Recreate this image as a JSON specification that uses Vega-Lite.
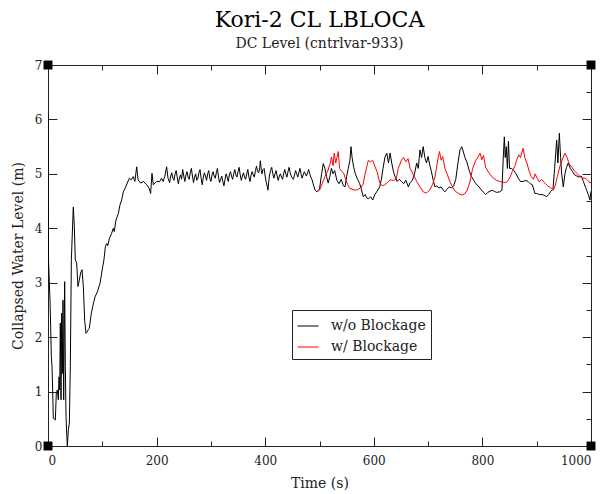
{
  "$schema": "https://vega.github.io/schema/vega-lite/v6.json",
  "width": 543,
  "height": 381,
  "autosize": {"type": "none"},
  "padding": {"left": 48, "top": 65, "right": 15, "bottom": 48},
  "title": {
    "text": "Kori-2 CL LBLOCA",
    "subtitle": "DC Level (cntrlvar-933)",
    "font": "DejaVu Serif",
    "fontSize": 22,
    "fontWeight": "normal",
    "color": "black",
    "subtitleFont": "DejaVu Serif",
    "subtitleFontSize": 14,
    "subtitleColor": "#222",
    "subtitlePadding": 5,
    "offset": 7,
    "anchor": "middle"
  },
  "config": {
    "view": {"stroke": null},
    "axis": {
      "domainColor": "#222",
      "domainWidth": 1,
      "tickColor": "#222",
      "tickWidth": 1,
      "grid": false,
      "labelFont": "DejaVu Serif",
      "labelFontSize": 12,
      "labelColor": "#222",
      "titleFont": "DejaVu Serif",
      "titleFontSize": 14,
      "titleFontWeight": "normal",
      "titleColor": "#222"
    },
    "legend": {
      "orient": "none",
      "legendX": 244,
      "legendY": 245,
      "strokeColor": "#222",
      "fillColor": "white",
      "padding": 5,
      "labelFont": "DejaVu Serif",
      "labelFontSize": 14,
      "labelColor": "#222",
      "labelOffset": 12,
      "symbolType": "stroke",
      "symbolSize": 441,
      "symbolStrokeWidth": 1,
      "rowPadding": 3
    }
  },
  "datasets": {
    "corners": [
      {"t": 0, "v": 0}, {"t": 0, "v": 7}, {"t": 1000, "v": 0}, {"t": 1000, "v": 7}
    ]
  },
  "layer": [
    {
      "data": {"values": [
        {"t":0,"v":6.1},{"t":1,"v":3.4},{"t":3.7,"v":2.68},{"t":4.9,"v":2.19},{"t":6.1,"v":1.64},{"t":7.4,"v":1.46},{"t":8.6,"v":1.03},{"t":9.8,"v":0.51},{"t":13.5,"v":0.48},{"t":15.3,"v":0.97},{"t":17.2,"v":1.03},{"t":19,"v":0.85},{"t":20.3,"v":1.27},{"t":21.5,"v":1.03},{"t":22.7,"v":2.26},{"t":24,"v":0.85},{"t":25.2,"v":2.44},{"t":26.4,"v":1.33},{"t":27.6,"v":2.68},{"t":28.9,"v":0.85},{"t":30.7,"v":3.02},{"t":31.9,"v":1.46},{"t":33.2,"v":0.54},{"t":34.4,"v":0.24},{"t":35.6,"v":0.0},{"t":37.5,"v":0.3},{"t":39.3,"v":0.42},{"t":41.1,"v":1.46},{"t":43,"v":3.42},{"t":44.8,"v":3.91},{"t":46.6,"v":4.39},{"t":48.5,"v":4.03},{"t":50.3,"v":3.42},{"t":52.8,"v":3.36},{"t":55.2,"v":2.93},{"t":57.7,"v":3.05},{"t":60.1,"v":3.18},{"t":62.6,"v":3.24},{"t":65.1,"v":2.93},{"t":67.5,"v":2.31},{"t":70,"v":2.07},{"t":72.4,"v":2.1},{"t":74,"v":2.14},{"t":76.1,"v":2.16},{"t":79.8,"v":2.44},{"t":82.3,"v":2.56},{"t":86.6,"v":2.74},{"t":90.8,"v":2.83},{"t":95.8,"v":2.99},{"t":100.7,"v":3.29},{"t":103,"v":3.42},{"t":105.6,"v":3.66},{"t":108,"v":3.72},{"t":110,"v":3.68},{"t":113,"v":3.81},{"t":117.3,"v":3.91},{"t":120.3,"v":4.0},{"t":122,"v":3.94},{"t":125.2,"v":4.15},{"t":129.5,"v":4.27},{"t":132.6,"v":4.43},{"t":135.7,"v":4.52},{"t":138.7,"v":4.67},{"t":141.8,"v":4.73},{"t":146,"v":4.83},{"t":149.8,"v":4.92},{"t":153.5,"v":4.89},{"t":157,"v":4.95},{"t":160,"v":4.86},{"t":163.3,"v":5.13},{"t":166,"v":4.89},{"t":170.7,"v":4.83},{"t":175.6,"v":4.86},{"t":181.7,"v":4.8},{"t":186.6,"v":4.73},{"t":189,"v":4.64},{"t":191.5,"v":5.01},{"t":194,"v":4.8},{"t":200,"v":4.86},{"t":206,"v":4.86},{"t":209,"v":4.92},{"t":212,"v":4.86},{"t":215,"v":4.95},{"t":218.5,"v":5.13},{"t":221,"v":4.92},
        {"t":224,"v":4.84},{"t":226,"v":4.96},{"t":228,"v":5.02},{"t":230,"v":4.92},{"t":232,"v":4.88},{"t":234,"v":5.0},{"t":236,"v":5.06},{"t":238,"v":4.94},{"t":240,"v":4.82},{"t":242,"v":4.92},{"t":244,"v":4.98},{"t":246,"v":4.9},{"t":248,"v":5.08},{"t":250,"v":4.96},{"t":252,"v":4.86},{"t":254,"v":4.98},{"t":256,"v":5.04},{"t":258,"v":4.94},{"t":260,"v":4.9},{"t":262,"v":5.02},{"t":264,"v":5.1},{"t":266,"v":4.96},{"t":268,"v":4.84},{"t":270,"v":4.94},{"t":272,"v":5.0},{"t":274,"v":4.88},{"t":276,"v":4.92},{"t":278,"v":5.02},{"t":280,"v":5.08},{"t":282,"v":4.92},{"t":284,"v":4.8},{"t":286,"v":4.94},{"t":288,"v":5.02},{"t":290,"v":4.96},{"t":292,"v":4.88},{"t":294,"v":5.0},{"t":296,"v":5.06},{"t":298,"v":4.92},{"t":300,"v":4.86},{"t":302,"v":4.98},{"t":304,"v":5.04},{"t":306,"v":4.96},{"t":308,"v":4.92},{"t":310,"v":5.02},{"t":312,"v":5.1},{"t":314,"v":4.94},{"t":316,"v":4.84},{"t":318,"v":4.9},{"t":320,"v":4.96},{"t":322,"v":4.86},{"t":324,"v":4.78},{"t":326,"v":4.9},{"t":328,"v":5.0},{"t":330,"v":4.94},{"t":332,"v":4.86},{"t":334,"v":4.98},{"t":336,"v":5.04},{"t":338,"v":4.96},{"t":340,"v":4.9},{"t":342,"v":5.0},{"t":344,"v":5.08},{"t":346,"v":4.98},{"t":348,"v":4.94},{"t":350,"v":5.04},{"t":352,"v":5.12},{"t":354,"v":4.98},{"t":356,"v":4.88},{"t":358,"v":4.96},{"t":360,"v":5.02},{"t":362,"v":4.94},{"t":364,"v":4.9},{"t":366,"v":5.0},{"t":368,"v":5.08},{"t":370,"v":4.94},{"t":372,"v":4.86},{"t":374,"v":4.98},{"t":376,"v":5.04},{"t":378,"v":4.98},{"t":380,"v":4.94},{"t":382,"v":5.06},{"t":384,"v":5.14},{"t":386,"v":5.04},{"t":388,"v":5.02},{"t":390,"v":5.12},{"t":391,"v":5.24},{"t":393,"v":5.06},{"t":394,"v":5.0},{"t":396,"v":5.08},{"t":398,"v":5.1},{"t":400,"v":4.96},{"t":402,"v":4.84},{"t":404,"v":4.76},{"t":405,"v":4.7},{"t":407,"v":4.9},{"t":408,"v":4.98},{"t":410,"v":5.06},{"t":412,"v":5.12},{"t":414,"v":5.0},{"t":416,"v":4.92},{"t":418,"v":5.0},{"t":420,"v":5.06},{"t":422,"v":4.96},{"t":424,"v":4.88},{"t":426,"v":4.96},{"t":428,"v":5.0},{"t":430,"v":4.94},{"t":432,"v":4.9},{"t":434,"v":5.0},{"t":436,"v":5.08},{"t":438,"v":5.0},{"t":440,"v":4.94},{"t":442,"v":5.04},{"t":444,"v":5.12},{"t":446,"v":5.02},{"t":448,"v":4.96},{"t":450,"v":4.92},{"t":452,"v":4.9},{"t":454,"v":4.98},{"t":456,"v":5.06},{"t":458,"v":5.0},{"t":460,"v":4.94},{"t":462,"v":5.02},{"t":464,"v":5.1},{"t":466,"v":5.0},{"t":468,"v":4.92},{"t":470,"v":4.98},{"t":472,"v":5.04},{"t":474,"v":5.0},{"t":476,"v":4.96},{"t":478,"v":5.02},{"t":480,"v":5.08},{"t":482,"v":5.0},{"t":484,"v":4.94},{"t":486,"v":4.9},{"t":488,"v":4.83},{"t":490,"v":4.76},{"t":492,"v":4.7},{"t":495,"v":4.67},
        {"t":500,"v":4.72},{"t":504,"v":5.01},{"t":507,"v":5.19},{"t":510,"v":5.1},{"t":513,"v":4.95},{"t":516,"v":4.83},{"t":519,"v":4.95},{"t":522,"v":5.1},{"t":525,"v":5.0},{"t":528,"v":5.06},{"t":532,"v":4.88},{"t":536,"v":4.82},{"t":540,"v":4.9},{"t":544,"v":4.78},{"t":547,"v":4.76},{"t":550,"v":4.95},{"t":553,"v":5.1},{"t":556,"v":5.25},{"t":558,"v":5.5},{"t":560,"v":5.3},{"t":563,"v":5.12},{"t":566,"v":5.0},{"t":570,"v":4.9},{"t":574,"v":4.82},{"t":577,"v":4.72},{"t":580.7,"v":4.58},{"t":584,"v":4.62},{"t":587,"v":4.56},{"t":590,"v":4.54},{"t":594,"v":4.58},{"t":598,"v":4.52},{"t":602,"v":4.62},{"t":606,"v":4.68},{"t":611,"v":4.76},{"t":614,"v":4.9},{"t":617,"v":5.1},{"t":620.6,"v":5.31},{"t":624,"v":5.38},{"t":627,"v":5.2},{"t":630,"v":5.38},{"t":633,"v":5.2},{"t":636,"v":5.05},{"t":639,"v":4.95},{"t":643,"v":4.86},{"t":647,"v":4.9},{"t":651,"v":4.86},{"t":655,"v":4.82},{"t":659,"v":4.88},{"t":663.6,"v":4.76},{"t":667,"v":4.84},{"t":671,"v":4.88},{"t":675,"v":5.0},{"t":679,"v":5.2},{"t":682,"v":5.1},{"t":685,"v":5.44},{"t":688,"v":5.3},{"t":691,"v":5.5},{"t":694,"v":5.3},{"t":697,"v":5.2},{"t":700,"v":5.32},{"t":703,"v":5.16},{"t":706,"v":5.05},{"t":709,"v":4.9},{"t":712.7,"v":4.76},{"t":716,"v":4.78},{"t":720,"v":4.74},{"t":724,"v":4.76},{"t":728,"v":4.7},{"t":731,"v":4.67},{"t":735,"v":4.72},{"t":739,"v":4.76},{"t":743,"v":4.74},{"t":747,"v":4.78},{"t":751,"v":4.9},{"t":755,"v":5.2},{"t":758.7,"v":5.44},{"t":762,"v":5.5},{"t":765,"v":5.4},{"t":768,"v":5.3},{"t":772,"v":5.2},{"t":776,"v":5.05},{"t":780,"v":4.95},{"t":784,"v":4.88},{"t":788,"v":4.82},{"t":792,"v":4.78},{"t":798.7,"v":4.7},{"t":802,"v":4.66},{"t":806,"v":4.62},{"t":810,"v":4.66},{"t":814,"v":4.68},{"t":818,"v":4.7},{"t":822,"v":4.68},{"t":826,"v":4.66},{"t":832,"v":4.67},{"t":836,"v":4.7},{"t":838.5,"v":5.31},{"t":840.4,"v":5.68},{"t":842,"v":5.3},{"t":844,"v":5.5},{"t":846,"v":5.1},{"t":848,"v":5.6},{"t":850,"v":5.1},{"t":854,"v":5.1},{"t":858,"v":5.06},{"t":862,"v":5.0},{"t":866,"v":4.92},{"t":870,"v":4.86},{"t":875,"v":4.86},{"t":880,"v":4.88},{"t":884,"v":4.86},{"t":888,"v":4.82},{"t":892,"v":4.8},{"t":896.8,"v":4.64},{"t":900,"v":4.64},{"t":905,"v":4.62},{"t":910,"v":4.62},{"t":915,"v":4.6},{"t":918.4,"v":4.58},{"t":922,"v":4.62},{"t":926,"v":4.68},{"t":930,"v":4.72},{"t":933,"v":5.1},{"t":936.8,"v":5.62},{"t":939,"v":5.2},{"t":941.7,"v":5.75},{"t":944,"v":5.3},{"t":946,"v":5.0},{"t":949,"v":4.76},{"t":952,"v":5.0},{"t":955,"v":5.12},{"t":958,"v":5.2},{"t":962,"v":5.1},{"t":966,"v":5.04},{"t":970,"v":4.98},{"t":974,"v":4.96},{"t":978,"v":4.94},{"t":982,"v":4.96},{"t":986,"v":4.86},{"t":990,"v":4.75},{"t":992,"v":4.7},{"t":995,"v":4.62},{"t":998,"v":4.52},{"t":1000,"v":4.68}
      ]},
      "mark": {"type": "line", "strokeWidth": 1, "clip": true},
      "encoding": {
        "x": {
          "field": "t", "type": "quantitative",
          "scale": {"domain": [0, 1000], "nice": false, "zero": false},
          "axis": {
            "orient": "bottom",
            "title": "Time (s)",
            "format": "d",
            "values": [0,100,200,300,400,500,600,700,800,900,1000],
            "labelExpr": "datum.value % 200 === 0 ? datum.label : ''",
            "tickSize": {"condition": {"test": "datum.value % 200 === 0", "value": -9}, "value": -5},
            "labelPadding": 18,
            "titlePadding": 10
          }
        },
        "y": {
          "field": "v", "type": "quantitative",
          "scale": {"domain": [0, 7], "nice": false},
          "axis": {
            "orient": "left",
            "title": "Collapsed Water Level (m)",
            "format": "d",
            "values": [0,0.5,1,1.5,2,2.5,3,3.5,4,4.5,5,5.5,6,6.5,7],
            "labelExpr": "datum.value % 1 === 0 ? datum.label : ''",
            "tickSize": {"condition": {"test": "datum.value % 1 === 0", "value": -9}, "value": -5},
            "labelPadding": 15,
            "titlePadding": 9
          }
        },
        "color": {
          "datum": "w/o Blockage",
          "scale": {"domain": ["w/o Blockage", "w/ Blockage"], "range": ["#000000", "#ff0000"]},
          "legend": {"title": null}
        }
      }
    },
    {
      "data": {"values": [
        {"t":495,"v":4.67},{"t":500,"v":4.7},{"t":505,"v":4.82},{"t":510,"v":4.95},{"t":515,"v":5.05},{"t":520,"v":5.2},{"t":522,"v":5.31},{"t":525,"v":5.15},{"t":527,"v":5.38},{"t":530,"v":5.2},{"t":534.6,"v":5.41},{"t":537,"v":5.1},{"t":541,"v":5.05},{"t":545,"v":5.0},{"t":548,"v":4.9},{"t":552,"v":4.8},{"t":556,"v":4.73},{"t":560,"v":4.72},{"t":565,"v":4.7},{"t":570,"v":4.71},{"t":575,"v":4.74},{"t":580,"v":4.8},{"t":584,"v":5.0},{"t":587,"v":5.13},{"t":590,"v":5.25},{"t":594,"v":5.22},{"t":598,"v":5.25},{"t":602,"v":5.14},{"t":606,"v":5.04},{"t":611,"v":4.83},{"t":616,"v":4.78},{"t":620,"v":4.8},{"t":625,"v":4.84},{"t":630,"v":4.89},{"t":636,"v":4.88},{"t":641,"v":4.9},{"t":645,"v":5.1},{"t":651,"v":5.25},{"t":655,"v":5.3},{"t":659,"v":5.22},{"t":663,"v":5.28},{"t":667,"v":5.1},{"t":672,"v":5.0},{"t":679,"v":4.86},{"t":685,"v":4.76},{"t":691,"v":4.67},{"t":697,"v":4.65},{"t":703,"v":4.7},{"t":708,"v":4.8},{"t":713,"v":4.95},{"t":716,"v":5.15},{"t":718.8,"v":5.31},{"t":721,"v":5.41},{"t":724,"v":5.25},{"t":727,"v":5.32},{"t":731,"v":5.1},{"t":735,"v":5.0},{"t":740,"v":4.86},{"t":745,"v":4.76},{"t":750,"v":4.68},{"t":756,"v":4.64},{"t":761.9,"v":4.61},{"t":767,"v":4.63},{"t":772,"v":4.7},{"t":777,"v":4.85},{"t":782,"v":5.1},{"t":788,"v":5.25},{"t":792,"v":5.31},{"t":795.6,"v":5.38},{"t":799,"v":5.26},{"t":802,"v":5.34},{"t":806,"v":5.12},{"t":810,"v":5.05},{"t":815,"v":4.98},{"t":820,"v":4.92},{"t":826,"v":4.88},{"t":832,"v":4.86},{"t":837,"v":4.85},{"t":841,"v":4.84},{"t":845,"v":4.85},{"t":850,"v":4.92},{"t":855,"v":5.04},{"t":860,"v":5.15},{"t":863,"v":5.25},{"t":867,"v":5.35},{"t":870,"v":5.3},{"t":875,"v":5.47},{"t":878,"v":5.3},{"t":882,"v":5.2},{"t":886,"v":5.05},{"t":890,"v":4.95},{"t":894,"v":4.9},{"t":897,"v":5.0},{"t":901,"v":4.92},{"t":905,"v":4.85},{"t":909,"v":4.9},{"t":915,"v":4.83},{"t":920,"v":4.78},{"t":925,"v":4.75},{"t":930.6,"v":4.7},{"t":934,"v":4.78},{"t":938,"v":4.95},{"t":943,"v":5.15},{"t":949,"v":5.31},{"t":952,"v":5.38},{"t":956,"v":5.3},{"t":960,"v":5.18},{"t":965,"v":5.12},{"t":970,"v":5.05},{"t":975,"v":5.0},{"t":980,"v":4.95},{"t":985,"v":4.92},{"t":990,"v":4.92},{"t":994,"v":4.88},{"t":998,"v":4.83},{"t":1000,"v":4.85}
      ]},
      "mark": {"type": "line", "strokeWidth": 1, "clip": true},
      "encoding": {
        "x": {"field": "t", "type": "quantitative", "axis": null},
        "y": {"field": "v", "type": "quantitative", "axis": null},
        "color": {"datum": "w/ Blockage"}
      }
    },
    {
      "data": {"name": "corners"},
      "mark": {"type": "point", "shape": "square", "filled": true, "color": "black", "size": 80, "opacity": 1},
      "encoding": {
        "x": {
          "field": "t", "type": "quantitative",
          "axis": {
            "orient": "top", "title": null, "labels": false,
            "values": [0,100,200,300,400,500,600,700,800,900,1000],
            "tickSize": {"condition": {"test": "datum.value % 200 === 0", "value": -9}, "value": -5}
          }
        },
        "y": {
          "field": "v", "type": "quantitative",
          "axis": {
            "orient": "right", "title": null, "labels": false,
            "values": [0,0.5,1,1.5,2,2.5,3,3.5,4,4.5,5,5.5,6,6.5,7],
            "tickSize": {"condition": {"test": "datum.value % 1 === 0", "value": -9}, "value": -5}
          }
        }
      }
    }
  ],
  "resolve": {"axis": {"x": "independent", "y": "independent"}}
}
